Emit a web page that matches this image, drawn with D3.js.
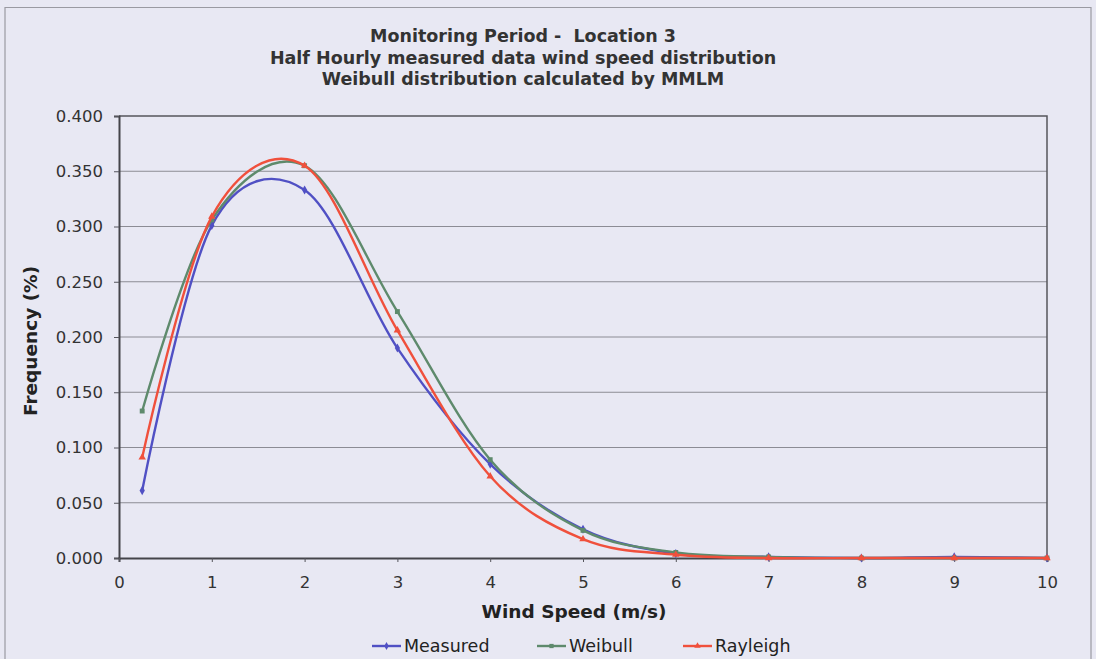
<!DOCTYPE html>
<html>
<head>
<meta charset="utf-8">
<script src="https://cdn.jsdelivr.net/npm/d3@7/dist/d3.min.js"></script>
<style>
  html, body { margin: 0; padding: 0; background: #e8e8f3; }
  svg { display: block; }
  text.pre { white-space: pre; }
</style>
</head>
<body>
<svg id="chart" width="1096" height="659"></svg>
<script>
const titleLines = ["Monitoring Period -  Location 3",
                    "Half Hourly measured data wind speed distribution",
                    "Weibull distribution calculated by MMLM"];
const windSpeed = [0.25, 1, 2, 3, 4, 5, 6, 7, 8, 9, 10];
const measured  = [0.061, 0.301, 0.333, 0.190, 0.085, 0.026, 0.004, 0.001, 0.000, 0.001, 0.000];
const weibull   = [0.133, 0.306, 0.355, 0.223, 0.089, 0.025, 0.005, 0.001, 0.000, 0.000, 0.000];
const rayleigh  = [0.091, 0.309, 0.355, 0.206, 0.074, 0.017, 0.003, 0.000, 0.000, 0.000, 0.000];
const seriesNames = ["Measured", "Weibull", "Rayleigh"];
const xTicks = [0, 1, 2, 3, 4, 5, 6, 7, 8, 9, 10];
const yTicks = [0, 0.05, 0.1, 0.15, 0.2, 0.25, 0.3, 0.35, 0.4];
const xLabel = "Wind Speed (m/s)";
const yLabel = "Frequency (%)";

const colors = { Measured: "#5050c4", Weibull: "#5e8a6c", Rayleigh: "#f0503c" };
const symbols = { Measured: d3.symbolDiamond, Weibull: d3.symbolSquare, Rayleigh: d3.symbolTriangle };
const seriesData = { Measured: measured, Weibull: weibull, Rayleigh: rayleigh };

const svg = d3.select("#chart");
const W = 1096, H = 659;
const m = { left: 119, right: 1047, top: 116, bottom: 558 };
const FONT = "'DejaVu Sans', Verdana, sans-serif";

// outer frame
svg.append("path")
  .attr("d", `M5,${H+2} V7.5 H1091 V${H+2}`)
  .attr("fill", "none").attr("stroke", "#9a9aa2").attr("stroke-width", 1.2);

const x = d3.scaleLinear().domain([0, 10]).range([m.left, m.right]);
const y = d3.scaleLinear().domain([0, 0.4]).range([m.bottom, m.top]);

// titles
const tt = svg.append("g").attr("font-family", FONT)
  .attr("font-weight", "bold").attr("font-size", 16).attr("fill", "#333").attr("text-anchor", "middle");
const titleTexts = titleLines.map((t, i) =>
  tt.append("text").attr("class", "pre").attr("xml:space", "preserve")
    .attr("x", 523).attr("y", 42 + i * 21.5).text(t));
// fit the title font so the second line spans about 515px, as in the reference
const w2 = titleTexts[1].node().getComputedTextLength();
if (w2 > 0) tt.attr("font-size", Math.min(17.5, 16 * 515 / w2));

// grid lines
svg.append("g").selectAll("line").data(yTicks.slice(1, -1)).join("line")
  .attr("x1", m.left).attr("x2", m.right)
  .attr("y1", d => y(d)).attr("y2", d => y(d))
  .attr("stroke", "#8c8c94").attr("stroke-width", 1);

// plot border (top & right)
svg.append("path")
  .attr("d", `M${m.left},${m.top} H${m.right} V${m.bottom}`)
  .attr("fill", "none").attr("stroke", "#55555c").attr("stroke-width", 1.5);

// axes
const yAxis = d3.axisLeft(y).tickValues(yTicks).tickFormat(d3.format(".3f")).tickSizeOuter(0).tickSize(5).tickPadding(11);
const gy = svg.append("g").attr("transform", `translate(${m.left},0)`).call(yAxis);
const xAxis = d3.axisBottom(x).tickValues(xTicks).tickFormat(d3.format("d")).tickSizeOuter(0).tickSize(4).tickPadding(14);
const gx = svg.append("g").attr("transform", `translate(0,${m.bottom})`).call(xAxis);
[gx, gy].forEach(g => {
  g.select(".domain").attr("stroke", "#44444a").attr("stroke-width", 2);
  g.selectAll(".tick line").attr("stroke", "#55555c");
  g.selectAll("text").attr("font-family", FONT)
    .attr("font-size", 16.5).attr("fill", "#333");
});

// axis titles
svg.append("text").attr("x", 574).attr("y", 618)
  .attr("text-anchor", "middle").attr("font-family", FONT)
  .attr("font-weight", "bold").attr("font-size", 18.5).attr("fill", "#222").text(xLabel);
svg.append("text").attr("transform", `translate(37,341) rotate(-90)`)
  .attr("text-anchor", "middle").attr("font-family", FONT)
  .attr("font-weight", "bold").attr("font-size", 18.5).attr("fill", "#222").text(yLabel);

// series
const line = d3.line().x(d => x(d[0])).y(d => y(d[1])).curve(d3.curveCardinal.tension(0));
seriesNames.forEach(name => {
  const pts = windSpeed.map((w, i) => [w, seriesData[name][i]]);
  const g = svg.append("g");
  g.append("path").datum(pts).attr("d", line)
    .attr("fill", "none").attr("stroke", colors[name]).attr("stroke-width", 2.4);
  g.selectAll("path.mk").data(pts).join("path").attr("class", "mk")
    .attr("transform", d => `translate(${x(d[0])},${y(d[1])})`)
    .attr("d", d3.symbol().type(symbols[name]).size(24))
    .attr("fill", colors[name]);
});

// legend
const legX = [372, 537, 683];
const lg = svg.append("g");
seriesNames.forEach((name, i) => {
  const lx = legX[i], ly = 646;
  lg.append("line").attr("x1", lx).attr("x2", lx + 29).attr("y1", ly).attr("y2", ly)
    .attr("stroke", colors[name]).attr("stroke-width", 2.4);
  lg.append("path").attr("transform", `translate(${lx + 14.5},${ly})`)
    .attr("d", d3.symbol().type(symbols[name]).size(18)).attr("fill", colors[name]);
  lg.append("text").attr("x", lx + 32).attr("y", ly + 6)
    .attr("font-family", FONT).attr("font-size", 17.5)
    .attr("fill", "#222").text(name);
});
</script>
</body>
</html>
